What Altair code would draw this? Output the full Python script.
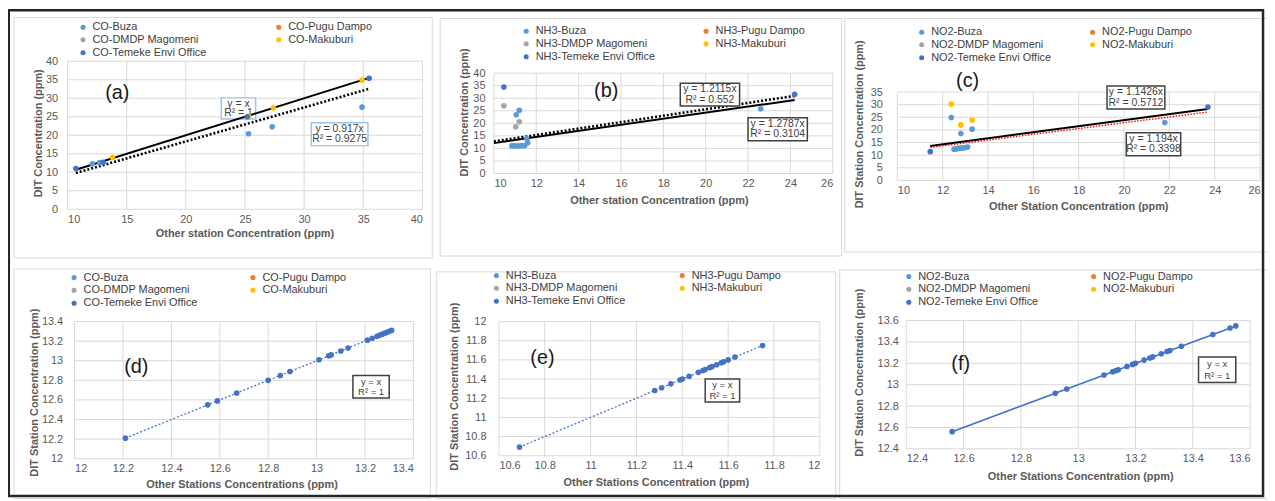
import altair as alt
import pandas as pd

FONT = "Liberation Sans"
# the legend fills column-major (3 rows), so this order reads row-wise as
# Buza, Pugu Dampo / DMDP Magomeni, Makuburi / Temeke Envi Office
STATIONS = ["Buza", "DMDP Magomeni", "Temeke Envi Office", "Pugu Dampo", "Makuburi"]
STATION_COLORS = ["#5B9BD5", "#A5A5A5", "#4472C4", "#ED7D31", "#FFC000"]

W, H = 1267, 493  # drawing size (page minus the 8px body margin)

# ---------------- (a) CO ----------------
a_station = ["Buza", "Buza", "Buza", "Buza", "Buza",
             "Makuburi", "Makuburi", "Makuburi", "Makuburi",
             "Temeke Envi Office", "Temeke Envi Office", "Temeke Envi Office", "Temeke Envi Office"]
a_x = [12.1, 12.7, 25.3, 27.3, 34.9, 13.8, 25.3, 27.4, 34.9, 10.7, 13.0, 25.2, 35.5]
a_y = [12.3, 12.6, 20.4, 22.3, 27.6, 14.0, 25.2, 27.4, 34.9, 11.0, 12.7, 25.0, 35.4]
a_xticks = [10, 15, 20, 25, 30, 35, 40]
a_yticks = [0, 5, 10, 15, 20, 25, 30, 35, 40]
a_slopes = [1.0, 0.917]
a_line_x = [10.7, 35.5]
a_box_x0 = [23.0, 30.6]
a_box_x1 = [25.9, 35.4]
a_box_y0 = [24.4, 17.2]
a_box_y1 = [30.1, 23.4]
a_box_t1 = ["y = x", "y = 0.917x"]
a_box_t2 = ["R² = 1", "R² = 0.9275"]

# ---------------- (b) NH3 ----------------
b_station = ["Buza"] * 10 + ["DMDP Magomeni"] * 3 + ["Temeke Envi Office"] * 2
b_x = [10.85, 11.0, 11.15, 11.3, 11.45, 11.55, 11.6, 11.05, 11.2, 22.6, 10.47, 11.03, 11.2, 10.47, 24.2]
b_y = [11.0, 11.0, 11.0, 11.1, 11.1, 13.9, 12.3, 23.4, 25.2, 25.8, 27.0, 18.6, 20.6, 34.5, 31.6]
b_xticks = [10, 12, 14, 16, 18, 20, 22, 24, 26]
b_yticks = [0, 5, 10, 15, 20, 25, 30, 35, 40]
b_slopes = [1.2115, 1.2787]
b_line_x = [10.0, 24.2]
b_box_x0 = [18.8, 22.0]
b_box_x1 = [21.6, 24.8]
b_box_y0 = [26.9, 13.1]
b_box_y1 = [36.0, 22.2]
b_box_t1 = ["y = 1.2115x", "y = 1.2787x"]
b_box_t2 = ["R² = 0.552", "R² = 0.3104"]

# ---------------- (c) NO2 ----------------
c_station = ["Buza"] * 11 + ["Makuburi"] * 3 + ["Temeke Envi Office"] * 2
c_x = [12.5, 12.6, 12.7, 12.8, 12.9, 13.0, 13.1, 12.38, 12.8, 13.3, 21.8, 12.38, 12.8, 13.3, 11.45, 23.7]
c_y = [12.4, 12.5, 12.7, 12.8, 12.9, 13.0, 13.2, 24.9, 18.6, 20.3, 22.9, 30.2, 22.0, 23.9, 11.4, 29.1]
c_xticks = [10, 12, 14, 16, 18, 20, 22, 24, 26]
c_yticks = [0, 5, 10, 15, 20, 25, 30, 35]
c_slopes = [1.194, 1.1426]
c_line_x = [11.45, 23.7]
c_box_x0 = [19.25, 20.1]
c_box_x1 = [21.8, 22.5]
c_box_y0 = [28.3, 9.8]
c_box_y1 = [37.4, 18.9]
c_box_t1 = ["y = 1.1426x", "y = 1.194x"]
c_box_t2 = ["R² = 0.5712", "R² = 0.3398"]

# ---------------- (d) CO ----------------
d_x = [12.21, 12.55, 12.59, 12.67, 12.80, 12.85, 12.89, 13.01, 13.05, 13.06, 13.10, 13.13,
       13.21, 13.23, 13.25, 13.26, 13.27, 13.28, 13.29, 13.30, 13.31]
d_y = [12.21, 12.55, 12.59, 12.67, 12.80, 12.85, 12.89, 13.01, 13.05, 13.06, 13.10, 13.13,
       13.21, 13.23, 13.25, 13.26, 13.27, 13.28, 13.29, 13.30, 13.31]
d_ticks = [12, 12.2, 12.4, 12.6, 12.8, 13, 13.2, 13.4]
d_slopes = [1.0]
d_line_x = [12.21, 13.31]
d_box_x0 = [13.15]
d_box_x1 = [13.30]
d_box_y0 = [12.62]
d_box_y1 = [12.85]
d_box_t1 = ["y = x"]
d_box_t2 = ["R² = 1"]

# ---------------- (e) NH3 ----------------
e_x = [10.69, 11.28, 11.31, 11.35, 11.39, 11.40, 11.43, 11.47, 11.49, 11.50, 11.52, 11.53,
       11.55, 11.57, 11.58, 11.60, 11.63, 11.75]
e_y = [10.69, 11.28, 11.31, 11.35, 11.39, 11.40, 11.43, 11.47, 11.49, 11.50, 11.52, 11.53,
       11.55, 11.57, 11.58, 11.60, 11.63, 11.75]
e_ticks = [10.6, 10.8, 11, 11.2, 11.4, 11.6, 11.8, 12]
e_slopes = [1.0]
e_line_x = [10.69, 11.75]
e_box_x0 = [11.50]
e_box_x1 = [11.65]
e_box_y0 = [11.16]
e_box_y1 = [11.40]
e_box_t1 = ["y = x"]
e_box_t2 = ["R² = 1"]

# ---------------- (f) NO2 ----------------
f_x = [12.56, 12.92, 12.96, 13.09, 13.12, 13.13, 13.14, 13.17, 13.19, 13.20, 13.23, 13.25,
       13.26, 13.29, 13.31, 13.32, 13.36, 13.47, 13.53, 13.55]
f_y = [12.56, 12.92, 12.96, 13.09, 13.12, 13.13, 13.14, 13.17, 13.19, 13.20, 13.23, 13.25,
       13.26, 13.29, 13.31, 13.32, 13.36, 13.47, 13.53, 13.55]
f_ticks = [12.4, 12.6, 12.8, 13, 13.2, 13.4, 13.6]
f_slopes = [1.0]
f_line_x = [12.56, 13.55]
f_box_x0 = [13.42]
f_box_x1 = [13.55]
f_box_y0 = [13.02]
f_box_y1 = [13.26]
f_box_t1 = ["y = x"]
f_box_t2 = ["R² = 1"]

# layout (page pixels): plot rectangle, title centres, legend anchor
panels_spec = [
    dict(gas="CO", station=a_station, x=a_x, y=a_y, xt=a_xticks, yt=a_yticks, slopes=a_slopes, line_x=a_line_x,
         styles=[("#000000", 2.0, None), ("#000000", 2.6, [2, 2])],
         boxes=(a_box_x0, a_box_x1, a_box_y0, a_box_y1, a_box_t1, a_box_t2), box_stroke="#9DC3E6", box_first=True,
         box_font=10.5, letter="(a)", lx=14.2, ly=31.4,
         xtitle="Other station  Concentration (ppm)", ytitle="DIT Concentration (ppm)",
         plot=(68, 60, 425, 209), ytc=(39, 132), xtc=(246, 233), ylp=10, leg=(85, 28), legpad=67),
    dict(gas="NH3", station=b_station, x=b_x, y=b_y, xt=b_xticks, yt=b_yticks, slopes=b_slopes, line_x=b_line_x,
         styles=[("#000000", 2.0, None), ("#000000", 2.6, [2, 2])],
         boxes=(b_box_x0, b_box_x1, b_box_y0, b_box_y1, b_box_t1, b_box_t2), box_stroke="#404040", box_first=False,
         box_font=10.5, letter="(b)", lx=15.3, ly=32.9,
         xtitle="Other station  Concentration (ppm)", ytitle="DIT Concentration (ppm)",
         plot=(497, 72, 838, 173), ytc=(467, 111), xtc=(663, 200), ylp=9, leg=(531, 32), legpad=45),
    dict(gas="NO2", station=c_station, x=c_x, y=c_y, xt=c_xticks, yt=c_yticks, slopes=c_slopes, line_x=c_line_x,
         styles=[("#000000", 2.0, None), ("#FF0000", 1.4, [1.5, 1.5])],
         boxes=(c_box_x0, c_box_x1, c_box_y0, c_box_y1, c_box_t1, c_box_t2), box_stroke="#404040", box_first=False,
         box_font=10.5, letter="(c)", lx=13.1, ly=39.3,
         xtitle="Other Station Concentration (ppm)", ytitle="DIT Station Concentration (ppm)",
         plot=(903, 91, 1268, 180), ytc=(865, 123), xtc=(1085, 206), ylp=15, leg=(929, 33), legpad=36),
    dict(gas="CO", station=["Temeke Envi Office"] * len(d_x), x=d_x, y=d_y, xt=d_ticks, yt=d_ticks, slopes=d_slopes,
         line_x=d_line_x, styles=[("#4472C4", 1.3, [2, 2])],
         boxes=(d_box_x0, d_box_x1, d_box_y0, d_box_y1, d_box_t1, d_box_t2), box_stroke="#404040", box_first=False,
         box_font=9.5, letter="(d)", lx=12.255, ly=12.94,
         xtitle="Other Stations Concentrations (ppm)", ytitle="DIT Station Concentration (ppm)",
         plot=(75, 322, 416, 460), ytc=(35, 393), xtc=(243, 486), ylp=12, leg=(76, 280), legpad=50),
    dict(gas="NH3", station=["Temeke Envi Office"] * len(e_x), x=e_x, y=e_y, xt=e_ticks, yt=e_ticks, slopes=e_slopes,
         line_x=e_line_x, styles=[("#4472C4", 1.3, [2, 2])],
         boxes=(e_box_x0, e_box_x1, e_box_y0, e_box_y1, e_box_t1, e_box_t2), box_stroke="#404040", box_first=False,
         box_font=9.5, letter="(e)", lx=10.79, ly=11.62,
         xtitle="Other Stations Concentration (ppm)", ytitle="DIT Station Concentration (ppm)",
         plot=(502, 322, 825, 457), ytc=(457, 387), xtc=(660, 484), ylp=13, leg=(501, 278), legpad=51),
    dict(gas="NO2", station=["Temeke Envi Office"] * len(f_x), x=f_x, y=f_y, xt=f_ticks, yt=f_ticks, slopes=f_slopes,
         line_x=f_line_x, styles=[("#4472C4", 1.6, None)],
         boxes=(f_box_x0, f_box_x1, f_box_y0, f_box_y1, f_box_t1, f_box_t2), box_stroke="#404040", box_first=False,
         box_font=9.5, letter="(f)", lx=12.59, ly=13.19,
         xtitle="Other Stations  Concentration (ppm)", ytitle="DIT Station Concentration (ppm)",
         plot=(912, 321, 1258, 450), ytc=(865, 373), xtc=(1087, 478), ylp=8, leg=(916, 279), legpad=50),
]

# decorative frames (page pixels): light panel boxes and the dark outer frame
panel_boxes = [(14, 16, 435, 258), (443, 17, 847, 256), (850, 17, 1280, 252),
               (14, 269, 433, 500), (439, 272, 841, 500), (845, 270, 1280, 500)]
outer_frame = (8.8, 8.8, 1271, 497.5)


def build_panel(P):
    x0p, y0p, x1p, y1p = P["plot"]
    x0, y0, x1, y1 = x0p - 8, y0p - 8, x1p - 8, y1p - 8
    xs = alt.Scale(domain=[P["xt"][0], P["xt"][-1]], range=[x0, x1], zero=False, nice=False)
    ys = alt.Scale(domain=[P["yt"][0], P["yt"][-1]], range=[y1, y0], zero=False, nice=False)
    xaxis = alt.Axis(values=P["xt"], format="~g", title=P["xtitle"], orient="bottom", grid=False,
                     offset=y1 - H, labelPadding=4,
                     titleX=P["xtc"][0] - 8, titleY=P["xtc"][1] - y1p,
                     titleAlign="center", titleBaseline="middle")
    yaxis = alt.Axis(values=P["yt"], format="~g", title=P["ytitle"], orient="left", grid=False,
                     offset=-x0, labelPadding=P["ylp"],
                     titleX=P["ytc"][0] - x0p, titleY=P["ytc"][1] - 8, titleAngle=270,
                     titleAlign="center", titleBaseline="middle")

    def X(f):
        return alt.X(f, type="quantitative", scale=xs, axis=xaxis)

    def Y(f):
        return alt.Y(f, type="quantitative", scale=ys, axis=yaxis)

    layers = []
    # gridlines at the tick values
    xmin_d, xmax_d = P["xt"][0], P["xt"][-1]
    ymin_d, ymax_d = P["yt"][0], P["yt"][-1]
    gx = pd.DataFrame({"v": P["xt"], "lo": [ymin_d] * len(P["xt"]), "hi": [ymax_d] * len(P["xt"])})
    gy = pd.DataFrame({"v": P["yt"], "lo": [xmin_d] * len(P["yt"]), "hi": [xmax_d] * len(P["yt"])})
    layers.append(alt.Chart(gx).mark_rule(color="#D9D9D9", strokeWidth=1).encode(
        x=X("v"), y=Y("lo"), y2="hi"))
    layers.append(alt.Chart(gy).mark_rule(color="#D9D9D9", strokeWidth=1).encode(
        y=Y("v"), x=X("lo"), x2="hi"))

    # trend-line label boxes
    bx0s, bx1s, by0s, by1s, bt1, bt2 = P["boxes"]
    bdf = pd.DataFrame({"x0": bx0s, "x1": bx1s, "y0": by0s, "y1": by1s, "t1": bt1, "t2": bt2})
    bdf["xc"] = (bdf["x0"] + bdf["x1"]) / 2
    bdf["ya"] = bdf["y0"] + (bdf["y1"] - bdf["y0"]) * 0.73
    bdf["yb"] = bdf["y0"] + (bdf["y1"] - bdf["y0"]) * 0.27
    tstyle = dict(font=FONT, fontSize=P["box_font"], color="#404040", baseline="middle", align="center")
    box_layers = [
        alt.Chart(bdf).mark_rect(fill="white", stroke=P["box_stroke"], strokeWidth=1.5).encode(
            x=X("x0"), x2="x1", y=Y("y0"), y2="y1"),
        alt.Chart(bdf).mark_text(**tstyle).encode(x=X("xc"), y=Y("ya"), text="t1:N"),
        alt.Chart(bdf).mark_text(**tstyle).encode(x=X("xc"), y=Y("yb"), text="t2:N"),
    ]
    if P["box_first"]:
        layers += box_layers

    # trend lines through the origin (y = slope * x) over the fitted range
    lxa, lxb = P["line_x"]
    for slope, (col, sw, dash) in zip(P["slopes"], P["styles"]):
        ldf = pd.DataFrame({"lx": [lxa, lxb], "ly": [slope * lxa, slope * lxb]})
        kw = dict(color=col, strokeWidth=sw)
        if dash is not None:
            kw["strokeDash"] = dash
        layers.append(alt.Chart(ldf).mark_line(**kw).encode(x=X("lx"), y=Y("ly")))

    if not P["box_first"]:
        layers += box_layers

    names = [f"{P['gas']}-{s}" for s in STATIONS]
    pdf = pd.DataFrame({"px": P["x"], "py": P["y"], "series": [f"{P['gas']}-{s}" for s in P["station"]]})
    lgx, lgy = P["leg"]
    layers.append(alt.Chart(pdf).mark_circle(size=32, opacity=1).encode(
        x=X("px"), y=Y("py"),
        color=alt.Color("series:N", title=None,
                        scale=alt.Scale(domain=names, range=STATION_COLORS),
                        legend=alt.Legend(orient="none", legendX=lgx - 8 - 7, legendY=lgy - 8 - 8,
                                          columns=2, columnPadding=P["legpad"], rowPadding=1,
                                          symbolType="circle", symbolSize=26, labelFont=FONT,
                                          labelFontSize=11, labelColor="#404040", labelOffset=4,
                                          padding=0))))

    tdf = pd.DataFrame({"tx": [P["lx"]], "ty": [P["ly"]], "t": [P["letter"]]})
    layers.append(alt.Chart(tdf).mark_text(font=FONT, fontSize=20, color="#1a1a1a",
                                           baseline="middle", align="center").encode(
        x=X("tx"), y=Y("ty"), text="t:N"))

    return alt.layer(*layers)


one = pd.DataFrame({"k": [0]})
decor = []
for (bx0, by0, bx1, by1) in panel_boxes:
    decor.append(alt.Chart(one).mark_rect(fillOpacity=0, stroke="#D9D9D9", strokeWidth=1).encode(
        x=alt.value(bx0 - 8), x2=alt.value(bx1 - 8), y=alt.value(by0 - 8), y2=alt.value(by1 - 8)))
fx0, fy0, fx1, fy1 = outer_frame
decor.append(alt.Chart(one).mark_rect(fillOpacity=0, stroke="#262626", strokeWidth=2.5).encode(
    x=alt.value(fx0 - 8), x2=alt.value(fx1 - 8), y=alt.value(fy0 - 8), y2=alt.value(fy1 - 8)))

panels = [build_panel(P) for P in panels_spec]

chart = alt.layer(alt.layer(*decor), *panels).resolve_scale(
    x="independent", y="independent", color="independent"
).resolve_axis(x="independent", y="independent").resolve_legend(color="independent").properties(
    width=W, height=H, padding=0, background="white",
    autosize=alt.AutoSizeParams(type="none")
).configure_view(stroke="transparent").configure_axis(
    domain=False, ticks=False,
    labelFont=FONT, labelFontSize=11, labelColor="#595959",
    titleFont=FONT, titleFontSize=11, titleColor="#595959", titleFontWeight="bold"
)

chart.save("out.html", embed_options={"renderer": "svg", "actions": False})
